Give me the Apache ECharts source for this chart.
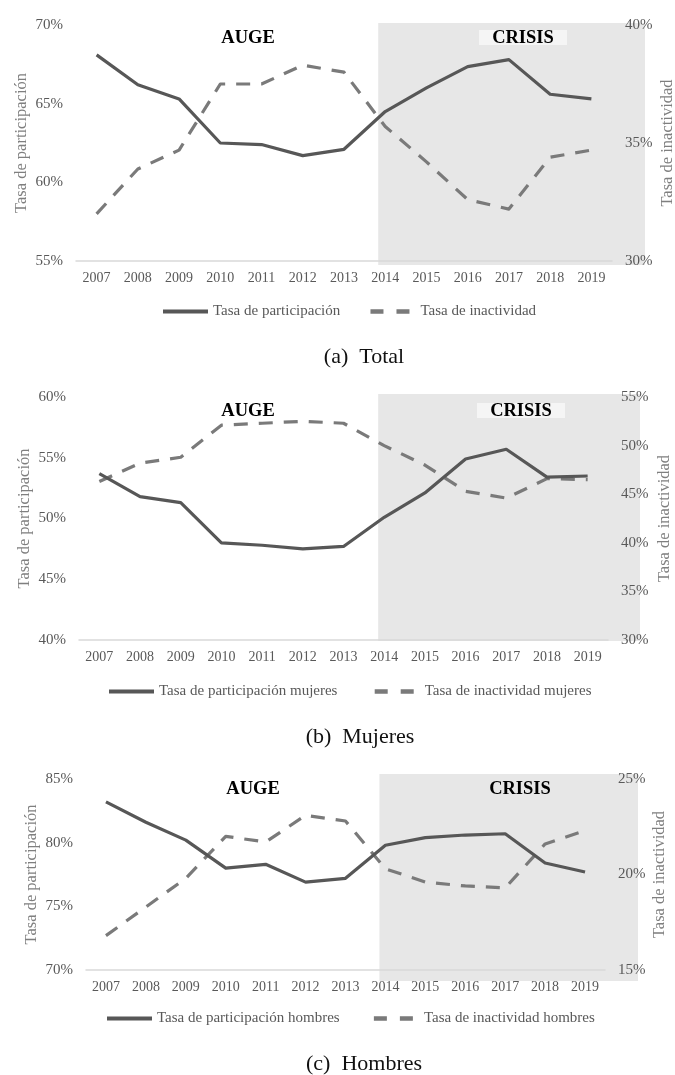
<!DOCTYPE html>
<html>
<head>
<meta charset="utf-8">
<script src="https://cdn.jsdelivr.net/npm/echarts@6/dist/echarts.min.js"></script>
<style>
html,body{margin:0;padding:0;background:#fff;}
#c{width:675px;height:1075px;}
</style>
</head>
<body>
<div id="c"></div>
<script>
// ---------- DATA ----------
const years = ['2007','2008','2009','2010','2011','2012','2013','2014','2015','2016','2017','2018','2019'];

const totalParticipation = [68.1, 66.2, 65.3, 62.5, 62.4, 61.7, 62.1, 64.5, 66.0, 67.35, 67.8, 65.6, 65.3];
const totalInactivity    = [32.0, 33.9, 34.7, 37.5, 37.5, 38.3, 38.0, 35.7, 34.2, 32.6, 32.2, 34.4, 34.7];

const womenParticipation = [53.7, 51.8, 51.3, 48.0, 47.8, 47.5, 47.7, 50.1, 52.1, 54.9, 55.7, 53.4, 53.5];
const womenInactivity    = [46.3, 48.2, 48.8, 52.1, 52.3, 52.5, 52.3, 50.0, 48.0, 45.3, 44.6, 46.6, 46.5];

const menParticipation   = [83.2, 81.6, 80.2, 78.0, 78.3, 76.9, 77.2, 79.8, 80.4, 80.6, 80.7, 78.4, 77.7];
const menInactivity      = [16.8, 18.3, 19.8, 22.0, 21.7, 23.1, 22.8, 20.3, 19.6, 19.4, 19.3, 21.6, 22.3];

const leftAxisRanges  = [[55, 70], [40, 60], [70, 85]];
const rightAxisRanges = [[30, 40], [30, 55], [15, 25]];
const tickStep = 5;

const seriesNames = [
  ['Tasa de participación', 'Tasa de inactividad'],
  ['Tasa de participación mujeres', 'Tasa de inactividad mujeres'],
  ['Tasa de participación hombres', 'Tasa de inactividad hombres']
];
const seriesValues = [
  [totalParticipation, totalInactivity],
  [womenParticipation, womenInactivity],
  [menParticipation, menInactivity]
];
const leftAxisName = 'Tasa de participación';
const rightAxisName = 'Tasa de inactividad';
const captions = ['(a)  Total', '(b)  Mujeres', '(c)  Hombres'];
const periodLabels = ['AUGE', 'CRISIS'];
const crisisStart = '2014';

// ---------- LAYOUT / STYLE ----------
const FONT = '"Liberation Serif", "Times New Roman", serif';
const panels = [
  { grid:{left:76, right:63, top:25, height:236}, nameOffL:54, nameOffR:56,
    legend:{left:161, top:304, itemGap:28}, caption:[364,357], auge:[248,38], crisis:[523,38], crisisBox:true,
    shade:{dl:-7, dr:33, dt:-2, db:4} },
  { grid:{left:79, right:67, top:397, height:243}, nameOffL:54, nameOffR:57,
    legend:{left:107, top:684, itemGap:35}, caption:[360,737], auge:[248,411], crisis:[521,411], crisisBox:true,
    shade:{dl:-6, dr:32, dt:-3, db:1} },
  { grid:{left:86, right:70, top:779, height:191}, nameOffL:54, nameOffR:55,
    legend:{left:105, top:1011, itemGap:32}, caption:[364,1064], auge:[253,789], crisis:[520,789], crisisBox:false,
    shade:{dl:-6, dr:33, dt:-5, db:11} }
];

const chart = echarts.init(document.getElementById('c'), null, {renderer:'canvas'});

const option = {
  animation:false,
  backgroundColor:'#ffffff',
  grid:[], xAxis:[], yAxis:[], series:[], legend:[]
};

panels.forEach((p, i) => {
  option.grid.push(Object.assign({containLabel:false, outerBoundsMode:'none'}, p.grid));
  option.xAxis.push({
    type:'category', gridIndex:i, data:years, boundaryGap:true,
    axisLine:{show:true, lineStyle:{color:'#d9d9d9', width:1.5}},
    axisTick:{show:false}, splitLine:{show:false},
    axisLabel:{interval:0, margin:10, color:'#595959', fontFamily:FONT, fontSize:14}
  });
  const yCommon = {
    type:'value', gridIndex:i, interval:tickStep,
    splitLine:{show:false}, axisLine:{show:false}, axisTick:{show:false},
    axisLabel:{formatter:'{value}%', margin:13, color:'#595959', fontFamily:FONT, fontSize:15}
  };
  option.yAxis.push(Object.assign({}, yCommon, {
    position:'left', min:leftAxisRanges[i][0], max:leftAxisRanges[i][1]
  }));
  option.yAxis.push(Object.assign({}, yCommon, {
    position:'right', min:rightAxisRanges[i][0], max:rightAxisRanges[i][1]
  }));
  option.series.push({
    type:'line', name:seriesNames[i][0], xAxisIndex:i, yAxisIndex:2*i,
    data:seriesValues[i][0], symbol:'none', smooth:false, z:3,
    lineStyle:{color:'#575757', width:3.2, type:'solid', join:'round'},
    itemStyle:{color:'#575757'}, emphasis:{disabled:true}
  });
  option.series.push({
    type:'line', name:seriesNames[i][1], xAxisIndex:i, yAxisIndex:2*i+1,
    data:seriesValues[i][1], symbol:'none', smooth:false, z:2,
    lineStyle:{color:'#7a7a7a', width:3.2, type:[14, 11], join:'round'},
    itemStyle:{color:'#7a7a7a'}, emphasis:{disabled:true}
  });
  option.legend.push({
    data:[
      {name:seriesNames[i][0], lineStyle:{width:4, type:'solid', cap:'butt'}},
      {name:seriesNames[i][1], lineStyle:{width:4.5, type:[13, 13], cap:'butt'}}
    ],
    orient:'horizontal', left:p.legend.left, top:p.legend.top,
    padding:0, itemGap:p.legend.itemGap, itemWidth:45, itemHeight:14, selectedMode:false,
    itemStyle:{opacity:0, borderWidth:0},
    lineStyle:{width:4},
    textStyle:{color:'#595959', fontFamily:FONT, fontSize:15}
  });
});

chart.setOption(option);

// ---------- DECORATIONS (positions derived from the axes) ----------
const graphics = [];
panels.forEach((p, i) => {
  const xStart = chart.convertToPixel({xAxisIndex:i}, crisisStart);
  const xFirst = chart.convertToPixel({xAxisIndex:i}, years[0]);
  const xLast = chart.convertToPixel({xAxisIndex:i}, years[years.length-1]);
  const xPrev = chart.convertToPixel({xAxisIndex:i}, years[years.length-2]);
  const half = (xLast - xPrev) / 2;
  const gridLeft = xFirst - half;
  const gridRight = xLast + half;
  const yTop = chart.convertToPixel({yAxisIndex:2*i}, leftAxisRanges[i][1]);
  const yBot = chart.convertToPixel({yAxisIndex:2*i}, leftAxisRanges[i][0]);
  const yMid = (yTop + yBot) / 2;
  const x1 = xStart + p.shade.dl, x2 = gridRight + p.shade.dr;
  const y1 = yTop + p.shade.dt, y2 = yBot + p.shade.db;
  graphics.push({type:'rect', z:-10, silent:true,
    shape:{x:x1, y:y1, width:x2-x1, height:y2-y1}, style:{fill:'#e7e7e7'}});
  if (p.crisisBox) {
    graphics.push({type:'rect', z:-9, silent:true,
      shape:{x:p.crisis[0]-44, y:p.crisis[1]-8, width:88, height:15}, style:{fill:'#f5f5f5'}});
  }
  graphics.push({type:'text', z:10, silent:true, x:p.auge[0], y:p.auge[1],
    style:{text:periodLabels[0], fill:'#000', font:'bold 18.5px ' + FONT, align:'center', verticalAlign:'middle'}});
  graphics.push({type:'text', z:10, silent:true, x:p.crisis[0], y:p.crisis[1],
    style:{text:periodLabels[1], fill:'#000', font:'bold 18.5px ' + FONT, align:'center', verticalAlign:'middle'}});
  graphics.push({type:'text', z:10, silent:true, x:p.caption[0], y:p.caption[1],
    style:{text:captions[i], fill:'#111', font:'22px ' + FONT, align:'center', verticalAlign:'middle'}});
  // axis titles
  graphics.push({type:'text', z:10, silent:true, x:gridLeft - p.nameOffL, y:yMid, rotation:Math.PI/2,
    style:{text:leftAxisName, fill:'#7f7f7f', font:'16.5px ' + FONT, align:'center', verticalAlign:'middle'}});
  graphics.push({type:'text', z:10, silent:true, x:gridRight + p.nameOffR, y:yMid, rotation:Math.PI/2,
    style:{text:rightAxisName, fill:'#7f7f7f', font:'16.5px ' + FONT, align:'center', verticalAlign:'middle'}});
});
chart.setOption({graphic:graphics});
</script>
</body>
</html>
